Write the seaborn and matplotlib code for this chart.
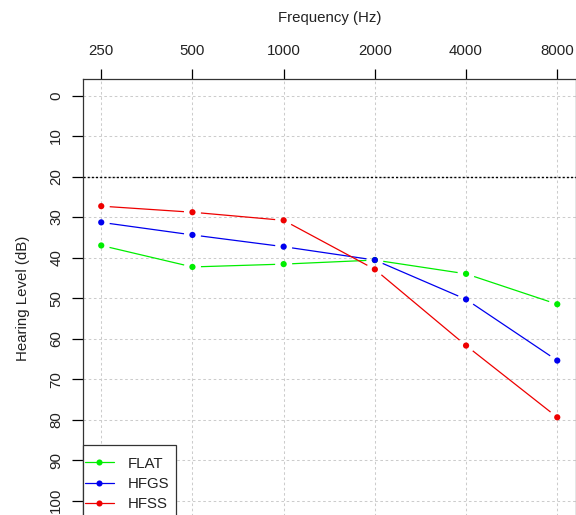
import numpy as np
import pandas as pd
import matplotlib
matplotlib.use("Agg")
import matplotlib.pyplot as plt
from matplotlib.lines import Line2D
from matplotlib.patches import Rectangle
import seaborn as sns

# Audiogram thresholds (dB HL) per group at each test frequency
freqs = [250, 500, 1000, 2000, 4000, 8000]
flat = [37.0, 42.3, 41.6, 40.6, 44.0, 51.5]
hfgs = [31.3, 34.4, 37.3, 40.6, 50.3, 65.4]
hfss = [27.3, 28.8, 30.8, 42.9, 61.7, 79.4]
groups = ["FLAT", "HFGS", "HFSS"]
colors = {"FLAT": "#00ee00", "HFGS": "#0000ee", "HFSS": "#ee0000"}
y_ticks = list(range(0, 101, 10))
normal_limit = 20

df = pd.DataFrame({
    "freq": freqs * 3,
    "level": flat + hfgs + hfss,
    "group": [g for g in groups for _ in freqs],
})

sns.set_style("white")
plt.rcParams["font.family"] = ["Liberation Sans", "DejaVu Sans"]
FS = 10.8
W, H = 576, 515

fig = plt.figure(figsize=(W / 100, H / 100), dpi=100)
ax = fig.add_axes([83 / W, -2 / H, (575.5 - 83) / W, 437.7 / H])

ax.set_xscale("log", base=2)
ax.set_xlim(freqs[0] / 2 ** 0.2, freqs[-1] * 2 ** 0.2)
ax.set_ylim(104, -4)
ax.set_autoscale_on(False)

# light dotted grid at every tick
for f in freqs:
    ax.axvline(f, color="#cccccc", lw=0.75, ls=(0, (2.5, 2.5)), zorder=0)
for y in y_ticks:
    ax.axhline(y, color="#cccccc", lw=0.75, ls=(0, (2.5, 2.5)), zorder=0)
ax.axhline(normal_limit, color="black", lw=1.0, ls=(0, (1.5, 1.5)), zorder=1)

fig.canvas.draw()
GAP = 8.5  # pixel gap between connecting segments and points


def gapped_line(xs, ys, color):
    pts = ax.transData.transform(np.column_stack([xs, ys]))
    inv = ax.transData.inverted()
    for p, q in zip(pts[:-1], pts[1:]):
        d = q - p
        length = np.hypot(*d)
        if length <= 2 * GAP:
            continue
        u = d / length
        a, b = inv.transform(np.array([p + u * GAP, q - u * GAP]))
        ax.plot([a[0], b[0]], [a[1], b[1]], color=color, lw=0.9, zorder=2,
                solid_capstyle="butt")


for g in groups:
    sub = df[df["group"] == g]
    gapped_line(sub["freq"].values, sub["level"].values, colors[g])
    sns.scatterplot(data=sub, x="freq", y="level", color=colors[g], s=20,
                    edgecolor="none", ax=ax, zorder=3, legend=False)

ax.set_xlim(freqs[0] / 2 ** 0.2, freqs[-1] * 2 ** 0.2)
ax.set_ylim(104, -4)

ax.xaxis.tick_top()
ax.xaxis.set_label_position("top")
ax.set_xticks(freqs)
ax.set_xticklabels([str(f) for f in freqs])
ax.xaxis.set_minor_locator(matplotlib.ticker.NullLocator())
ax.set_yticks(y_ticks)
ax.set_yticklabels([str(y) for y in y_ticks], rotation=90, va="center")
ax.tick_params(axis="x", direction="out", length=7.2, width=0.9, pad=8,
               labelsize=FS, colors="black", top=True, bottom=False)
ax.tick_params(axis="y", direction="out", length=7.8, width=0.9, pad=6.5,
               labelsize=FS, colors="black", left=True)
ax.tick_params(labelcolor="#222222")
ax.set_xlabel("Frequency (Hz)", fontsize=FS, labelpad=16, color="#222222")
ax.set_ylabel("Hearing Level (dB)", fontsize=FS, labelpad=14, color="#222222")

for s in ax.spines.values():
    s.set_color("#333333")
    s.set_linewidth(0.9)

# legend box in the bottom-left corner
box = Rectangle((83 / W, 1 - 525 / H), (176 - 83) / W, (525 - 445) / H,
                transform=fig.transFigure, facecolor="white", edgecolor="#333333",
                linewidth=0.9, zorder=4.5, clip_on=False)
ax.add_artist(box)

handles = [Line2D([0], [0], color=colors[g], lw=0.9, marker="o",
                  markersize=4.4, markeredgewidth=0) for g in groups]
leg = ax.legend(handles, groups, loc="upper left",
                bbox_to_anchor=(85 / W, 1 - 456.5 / H), bbox_transform=fig.transFigure,
                borderaxespad=0, borderpad=0, fontsize=FS, frameon=False,
                handlelength=1.9, handletextpad=0.95, labelspacing=0.42)
leg.set_zorder(5)
for t in leg.get_texts():
    t.set_color("#222222")

fig.savefig("out.png", dpi=100)
